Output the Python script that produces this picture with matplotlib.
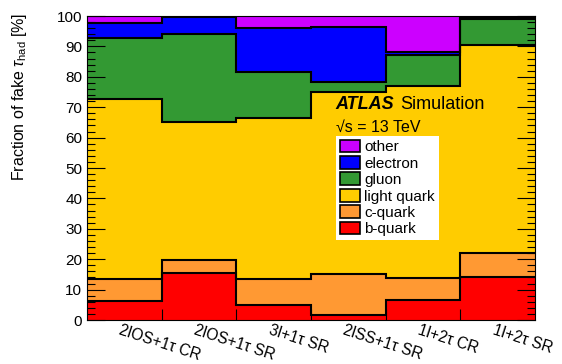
import numpy as np
import matplotlib
matplotlib.use("Agg")
import matplotlib.pyplot as plt
from matplotlib.patches import Patch
from matplotlib.ticker import MultipleLocator

plt.rcParams['font.family'] = ['Liberation Sans', 'DejaVu Sans']
plt.rcParams['mathtext.fontset'] = 'custom'
plt.rcParams['mathtext.rm'] = 'Liberation Sans'
plt.rcParams['mathtext.it'] = 'Liberation Sans:italic'

# regions and fake tau composition (%)
regions = ['2lOS+1τ CR', '2lOS+1τ SR', '3l+1τ SR', '2lSS+1τ SR', '1l+2τ CR', '1l+2τ SR']
b_quark = [6.3, 15.5, 4.9, 1.6, 6.6, 14.3]
c_quark = [7.3, 4.3, 8.5, 13.4, 7.1, 7.8]
light_quark = [59.0, 45.2, 53.1, 60.1, 63.3, 68.4]
gluon = [20.0, 29.1, 15.1, 3.1, 10.2, 8.5]
electron = [5.2, 5.6, 14.5, 18.1, 1.1, 0.6]
other = [2.2, 0.3, 3.9, 3.7, 11.7, 0.4]

components = [
    ('b-quark', b_quark, '#ff0000'),
    ('c-quark', c_quark, '#ff9933'),
    ('light quark', light_quark, '#ffcc00'),
    ('gluon', gluon, '#339933'),
    ('electron', electron, '#0000ff'),
    ('other', other, '#cc00ff'),
]

fig = plt.figure(figsize=(5.62, 3.64), dpi=100)
ax = fig.add_axes([87 / 562, 1 - 320 / 364, 448 / 562, 304 / 364])

edges = np.arange(len(regions) + 1)
bottom = np.zeros(len(regions))
for name, vals, col in components:
    top = bottom + np.array(vals)
    ax.stairs(top, edges, baseline=bottom, fill=True, color=col, lw=0)
    bottom = top
# black outlines between the layers
bottom = np.zeros(len(regions))
for name, vals, col in components[:-1]:
    bottom = bottom + np.array(vals)
    ax.stairs(bottom, edges, baseline=None, color='black', lw=1.5)

ax.set_xlim(0, len(regions))
ax.set_ylim(0, 100)

ax.yaxis.set_major_locator(MultipleLocator(10))
ax.yaxis.set_minor_locator(MultipleLocator(2))
ax.tick_params(axis='y', which='both', direction='in', left=True, right=True, labelsize=11)
ax.tick_params(axis='y', which='major', length=13, width=0.8)
ax.tick_params(axis='y', which='minor', length=6, width=0.8)
ax.set_xticks(edges[1:-1])
ax.set_xticklabels([])
ax.tick_params(axis='x', which='major', direction='in', length=8, width=0.8, top=False)

for i, lab in enumerate(regions):
    ax.text(i + 0.47, -0.8, lab, rotation=-18, ha='left', va='top',
            rotation_mode='anchor', fontsize=11.2, transform=ax.transData, clip_on=False)

ax.set_ylabel(r'Fraction of fake $\tau_{\mathrm{had}}$ [%]', fontsize=11.5, loc='top')
ax.yaxis.set_label_coords(-0.13, 1.01)

ax.text(0.555, 0.695, 'ATLAS', transform=ax.transAxes, fontsize=13,
        fontweight='bold', style='italic', ha='left', va='baseline')
ax.text(0.698, 0.695, 'Simulation', transform=ax.transAxes, fontsize=13,
        ha='left', va='baseline')
ax.text(0.555, 0.62, '√s = 13 TeV', transform=ax.transAxes, fontsize=11.5,
        ha='left', va='baseline')

handles = [Patch(facecolor=col, edgecolor='black', lw=1.2, label=name)
           for name, vals, col in components[::-1]]
leg = ax.legend(handles=handles, loc='upper left', bbox_to_anchor=(0.556, 0.606),
                frameon=True, fancybox=False, framealpha=1, edgecolor='white',
                fontsize=11, handlelength=1.3, handleheight=0.9, handletextpad=0.3,
                labelspacing=0.12, borderpad=0.25, borderaxespad=0)
leg.get_frame().set_linewidth(0)

fig.savefig('out.png', dpi=100)
